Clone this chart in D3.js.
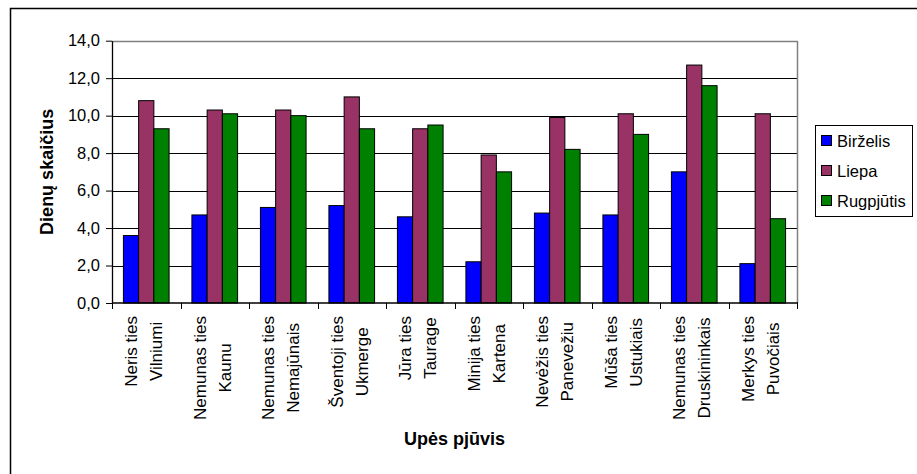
<!DOCTYPE html>
<html>
<head>
<meta charset="utf-8">
<script src="https://cdn.jsdelivr.net/npm/d3@7"></script>
<style>
  html, body { margin: 0; padding: 0; background: #fff; }
  svg { display: block; font-family: Arial, "Liberation Sans", sans-serif; }
</style>
</head>
<body>
<svg id="chart" width="917" height="474"></svg>
<script>
// River cross-sections (two-line labels)
const sectionsLine1 = ["Neris ties", "Nemunas ties", "Nemunas ties", "Šventoji ties", "Jūra ties",
  "Minija ties", "Nevėžis ties", "Mūša ties", "Nemunas ties", "Merkys ties"];
const sectionsLine2 = ["Vilniumi", "Kaunu", "Nemajūnais", "Ukmerge", "Taurage",
  "Kartena", "Panevežiu", "Ustukiais", "Druskininkais", "Puvočiais"];

// Series: number of days per month
const seriesNames = ["Birželis", "Liepa", "Rugpjūtis"];
const birzelis  = [3.6, 4.7, 5.1, 5.2, 4.6, 2.2, 4.8, 4.7, 7.0, 2.1];
const liepa     = [10.8, 10.3, 10.3, 11.0, 9.3, 7.9, 9.9, 10.1, 12.7, 10.1];
const rugpjutis = [9.3, 10.1, 10.0, 9.3, 9.5, 7.0, 8.2, 9.0, 11.6, 4.5];
const seriesColors = ["#0000FF", "#993366", "#008000"];

const yTicks = [0, 2, 4, 6, 8, 10, 12, 14];

const svg = d3.select("#chart");

// Outer chart frame (runs past the right and bottom edges)
svg.append("rect")
  .attr("x", 10.5).attr("y", 8.5)
  .attr("width", 920).attr("height", 480)
  .attr("fill", "#fff").attr("stroke", "#000").attr("stroke-width", 1.5);

const plot = { left: 112, right: 797, top: 40.7, bottom: 303 };

const categories = sectionsLine1.map((d, i) => i);
const x = d3.scaleBand()
  .domain(categories)
  .range([plot.left, plot.right])
  .paddingInner(1 / 3)
  .paddingOuter(1 / 6);
const xSub = d3.scaleBand()
  .domain(seriesNames)
  .range([0, x.bandwidth()]);
const y = d3.scaleLinear().domain([0, 14]).range([plot.bottom, plot.top]);

// Gridlines
svg.append("g")
  .selectAll("line")
  .data(yTicks.filter(t => t > 0 && t < 14))
  .join("line")
  .attr("x1", plot.left).attr("x2", plot.right)
  .attr("y1", d => Math.round(y(d)) + 0.5).attr("y2", d => Math.round(y(d)) + 0.5)
  .attr("stroke", "#000").attr("stroke-width", 1);

// Plot area border (top and right in grey)
svg.append("path")
  .attr("d", `M${plot.left},${Math.round(plot.top) + 0.5}H${plot.right + 0.5}V${plot.bottom}`)
  .attr("fill", "none").attr("stroke", "#808080").attr("stroke-width", 1.5);

// Bars
const values = [birzelis, liepa, rugpjutis];
const bars = [];
categories.forEach(i => {
  seriesNames.forEach((s, k) => bars.push({ i, s, k, v: values[k][i] }));
});
svg.append("g")
  .selectAll("rect")
  .data(bars)
  .join("rect")
  .attr("x", d => x(d.i) + xSub(d.s))
  .attr("y", d => y(d.v))
  .attr("width", xSub.bandwidth())
  .attr("height", d => y(0) - y(d.v))
  .attr("fill", d => seriesColors[d.k])
  .attr("stroke", "#000").attr("stroke-width", 1);

// Y axis
const yAxis = d3.axisLeft(y)
  .tickValues(yTicks)
  .tickSizeInner(6).tickSizeOuter(0)
  .tickPadding(6)
  .tickFormat(d => d3.format(".1f")(d).replace(".", ","));
const gy = svg.append("g")
  .attr("transform", `translate(${plot.left},0)`)
  .call(yAxis);
gy.select(".domain").attr("stroke", "#000").attr("stroke-width", 1.3);
gy.selectAll(".tick line").attr("stroke", "#000");
gy.selectAll(".tick text")
  .attr("font-size", "16.5px").attr("fill", "#000")
  .attr("font-family", "Arial, 'Liberation Sans', sans-serif");

// X axis: ticks between categories
const xAxisG = svg.append("g");
xAxisG.append("line")
  .attr("x1", plot.left).attr("x2", plot.right + 1)
  .attr("y1", plot.bottom).attr("y2", plot.bottom)
  .attr("stroke", "#000").attr("stroke-width", 1.3);
const boundaries = categories.map(i => x(i) - x.step() * x.paddingOuter()).concat([plot.right]);
xAxisG.selectAll("line.tk")
  .data(boundaries)
  .join("line")
  .attr("class", "tk")
  .attr("x1", d => Math.round(d) + 0.5).attr("x2", d => Math.round(d) + 0.5)
  .attr("y1", plot.bottom).attr("y2", plot.bottom + 6)
  .attr("stroke", "#000");

// Category labels, rotated, two centred lines per category
const labelTop = 316;
const baselineOffsets = [-9, 16];
categories.forEach(i => {
  const cx = x(i) + x.bandwidth() / 2;
  const g = svg.append("g");
  const lines = [sectionsLine1[i], sectionsLine2[i]];
  const texts = lines.map(t => g.append("text")
    .text(t)
    .attr("font-size", "17px")
    .attr("text-anchor", "middle")
    .attr("fill", "#000"));
  const maxLen = d3.max(texts, t => t.node().getComputedTextLength());
  const cy = labelTop + maxLen / 2;
  texts.forEach((t, j) => {
    t.attr("transform", `translate(${cx + baselineOffsets[j]},${cy}) rotate(-90)`);
  });
});

// Axis titles
svg.append("text")
  .attr("transform", `translate(53,${(plot.top + plot.bottom) / 2}) rotate(-90)`)
  .attr("text-anchor", "middle")
  .attr("font-size", "18px").attr("font-weight", "bold")
  .text("Dienų skaičius");

svg.append("text")
  .attr("x", (plot.left + plot.right) / 2)
  .attr("y", 445)
  .attr("text-anchor", "middle")
  .attr("font-size", "18px").attr("font-weight", "bold")
  .text("Upės pjūvis");

// Legend
const legend = svg.append("g");
legend.append("rect")
  .attr("x", 815.5).attr("y", 125.5)
  .attr("width", 97).attr("height", 91)
  .attr("fill", "#fff").attr("stroke", "#000").attr("stroke-width", 1);
const legendRows = [141, 171, 201];
seriesNames.forEach((s, k) => {
  legend.append("rect")
    .attr("x", 821.5).attr("y", legendRows[k] - 5.5)
    .attr("width", 10).attr("height", 10)
    .attr("fill", seriesColors[k]).attr("stroke", "#000").attr("stroke-width", 1);
  legend.append("text")
    .attr("x", 837).attr("y", legendRows[k])
    .attr("dy", "0.36em")
    .attr("font-size", "16.5px")
    .text(s);
});
</script>
</body>
</html>
